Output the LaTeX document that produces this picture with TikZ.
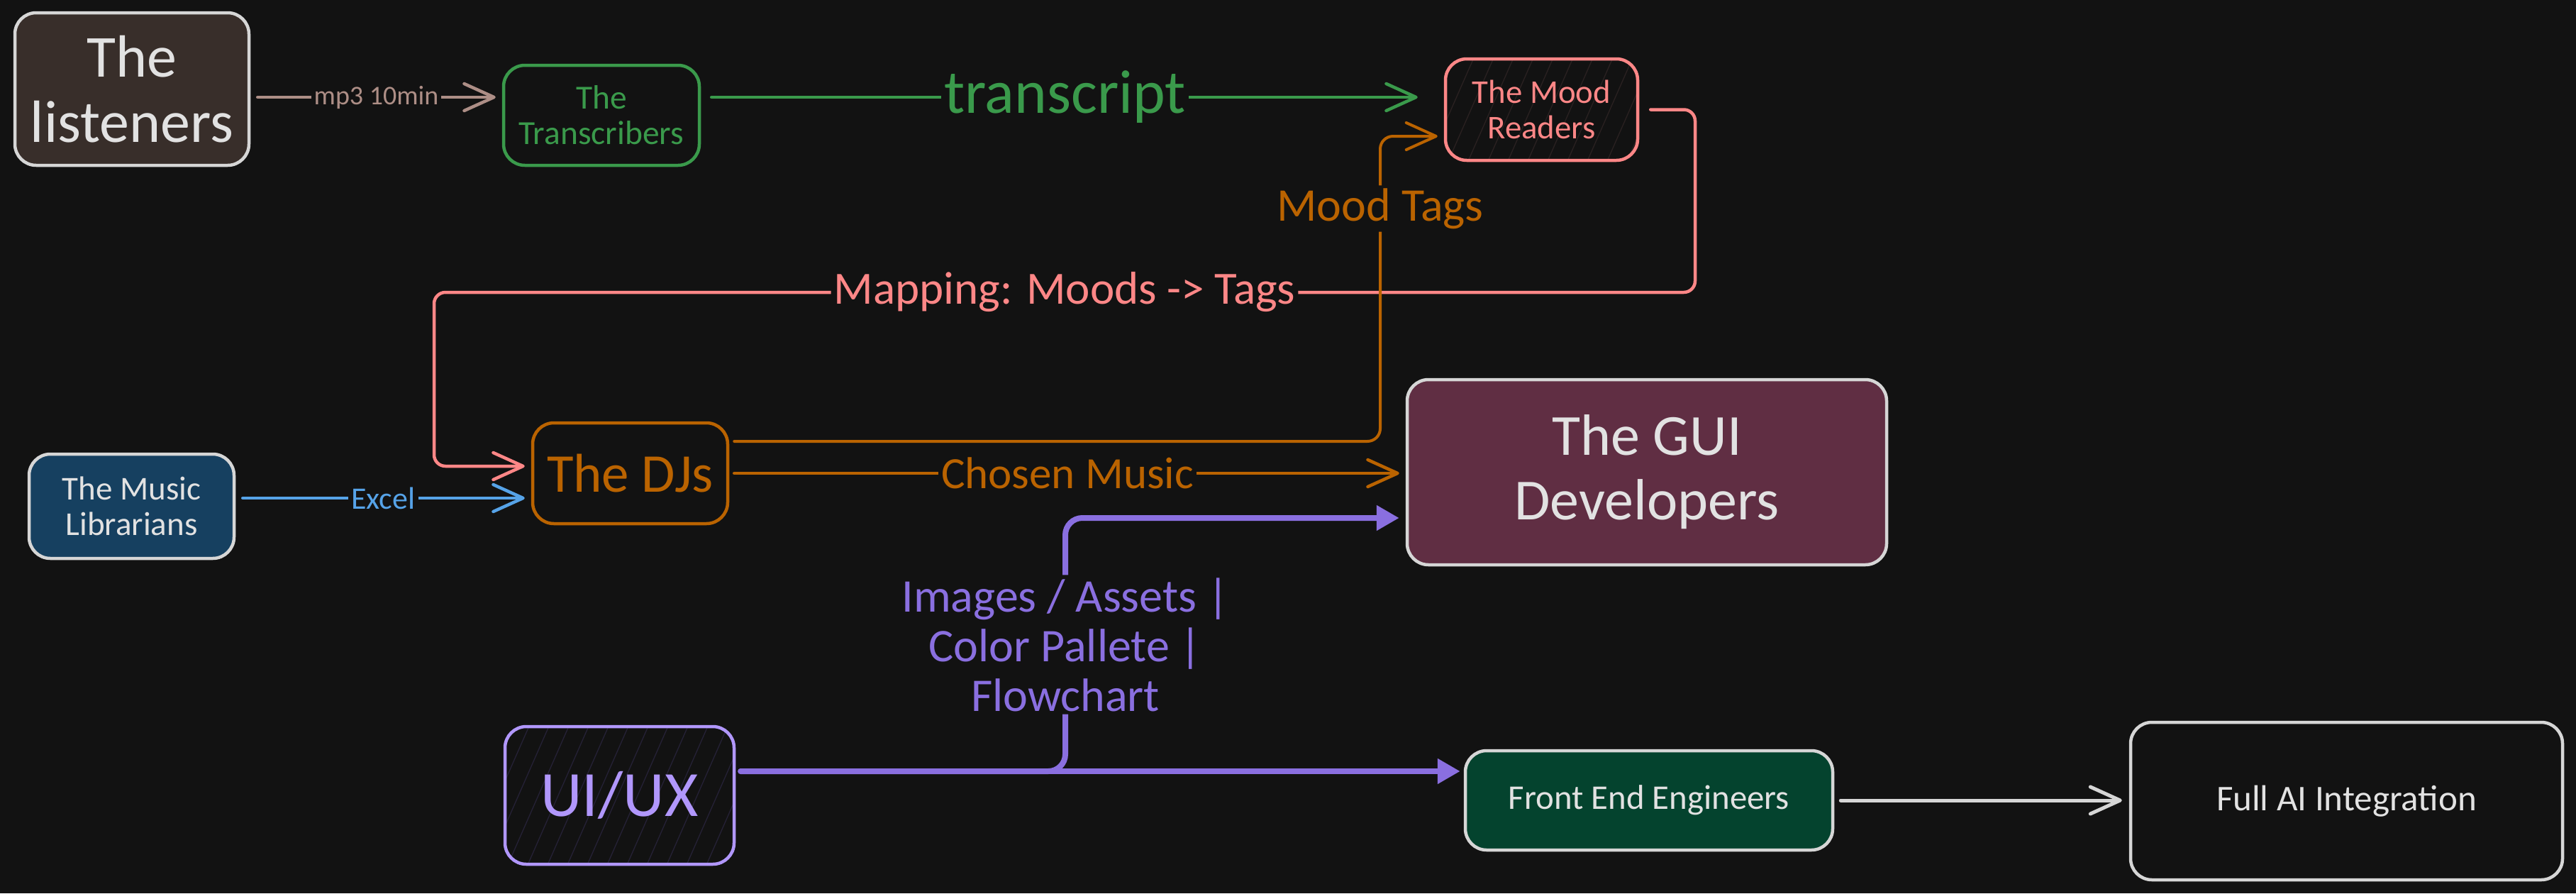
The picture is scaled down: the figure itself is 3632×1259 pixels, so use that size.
\documentclass[tikz,border=0pt]{standalone}
\usepackage{fontspec}
\setmainfont{Carlito}
\usetikzlibrary{arrows.meta,calc}
\definecolor{bg}{HTML}{121212}
\definecolor{lgray}{HTML}{D6D6D6}
\definecolor{txtw}{HTML}{E2E2E2}
\definecolor{brownfill}{HTML}{382E2A}
\definecolor{mpc}{HTML}{AD8E86}
\definecolor{grn}{HTML}{3A9A4B}
\definecolor{salmon}{HTML}{FF8787}
\definecolor{orng}{HTML}{BA6300}
\definecolor{blu}{HTML}{56A3E8}
\definecolor{purp}{HTML}{8A6FE0}
\definecolor{lav}{HTML}{B197FC}
\definecolor{libfill}{HTML}{164060}
\definecolor{guifill}{HTML}{602E43}
\definecolor{fefill}{HTML}{04432E}
\definecolor{hatchR}{HTML}{2A2121}
\definecolor{hatchP}{HTML}{252136}
\newcommand\fsz[2]{\fontsize{#1pt}{#2pt}\selectfont}
\begin{document}
\begin{tikzpicture}[x=1pt,y=-1pt,
  box/.style={draw, rounded corners=30pt, line width=4.5pt, inner sep=0pt, align=center},
  sz/.style 2 args={minimum width=#1pt, minimum height=#2pt},
  conn/.style={line width=4.5pt, line cap=round},
  barb/.style={-{Straight Barb[length=42pt,width=38pt,round]}},
  tri/.style={-{Triangle[length=32pt,width=34pt]}},
  lbl/.style={fill=bg, inner sep=4pt, align=center},
  hatch/.style={path picture={\foreach \k in {-12,...,14}{\draw[#1, line width=1.3pt] ($(path picture bounding box.south west)+(\k*28,10)$) -- ++(110,-250);}}},
]
\fill[bg] (0,0) rectangle (3632,1259);
\useasboundingbox (0,0) rectangle (3632,1259);

% nodes
\node[box, draw=lgray, fill=brownfill, text=txtw, sz={330}{215}, font=\fsz{84}{92}] (listeners) at (186,125.5) {The\\listeners};
\node[box, draw=grn, text=grn, sz={276}{141}, font=\fsz{47.5}{50}] (trans) at (848,162.5) {The\\Transcribers};
\node[box, draw=salmon, text=salmon, hatch=hatchR, sz={271}{143}, font=\fsz{46.8}{50}] (mood) at (2173.5,154.5) {The Mood\\Readers};
\node[box, draw=lgray, fill=libfill, text=txtw, sz={289}{147}, font=\fsz{47}{50}] (lib) at (185.5,713.5) {The Music\\Librarians};
\node[box, draw=orng, text=orng, sz={275}{142}, font=\fsz{77}{80}] (djs) at (888.5,667) {The DJs};
\node[box, draw=lgray, fill=guifill, text=txtw, sz={676}{261}, font=\fsz{82}{91}] (gui) at (2322,665.5) {The GUI\\Developers};
\node[box, draw=lav, text=lav, hatch=hatchP, sz={323}{194}, font=\fsz{91}{94}] (uiux) at (873.5,1121) {UI/UX};
\node[box, draw=lgray, fill=fefill, text=txtw, sz={518}{140}, font=\fsz{48.8}{52}] (fe) at (2325,1128) {Front End Engineers};
\node[box, draw=lgray, text=txtw, sz={609}{222}, font=\fsz{51}{54}] (fullai) at (3308.5,1129) {Full AI Integration};

% connectors
\draw[conn, mpc, barb, shorten <=10pt, shorten >=9pt] (listeners.east |- 0,137) -- node[lbl, text=mpc, font=\fsz{38}{40}] {mp3 10min} (trans.west |- 0,137);
\draw[conn, grn, barb, shorten <=15pt, shorten >=37pt] (trans.east |- 0,137) -- node[lbl, text=grn, font=\fsz{87}{90}, pos=0.49] {transcript} (mood.west |- 0,137);
\draw[conn, salmon, barb, rounded corners=16pt, shorten <=16pt, shorten >=9pt] (mood.east) -- (2390,154.5) -- (2390,412) -- node[lbl, text=salmon, font=\fsz{65}{68}] {Mapping: Moods -> Tags} (612,412) -- (612,657) -- ([yshift=10pt]djs.west);
\draw[conn, orng, line width=4pt, barb, rounded corners=18pt, shorten <=7pt, shorten >=9pt] ([yshift=45pt]djs.east) -- (1946,622) -- node[lbl, text=orng, font=\fsz{66}{68}, pos=0.763] {Mood Tags} (1946,192) -- ([yshift=-37.5pt]mood.west);
\draw[conn, orng, barb, shorten <=7pt, shorten >=9pt] (djs.east) -- node[lbl, text=orng, font=\fsz{63}{66}] {Chosen Music} (gui.west |- djs.east);
\draw[conn, blu, barb, shorten <=10pt, shorten >=9pt] (lib.east |- 0,702) -- node[lbl, text=blu, font=\fsz{44}{46}] {Excel} (djs.west |- 0,702);
\draw[conn, purp, line width=8pt, tri, rounded corners=24pt, shorten <=7pt, shorten >=9pt] (uiux.east |- 0,1087) -- (1502,1087) -- node[lbl, text=purp, font=\fsz{66}{70}, pos=0.5] {Images / Assets |\\Color Pallete |\\Flowchart} (1502,730) -- (gui.west |- 0,730);
\draw[conn, purp, line width=8pt, tri, shorten <=7pt, shorten >=5pt] (uiux.east |- 0,1087) -- (fe.west |- 0,1087);
\draw[conn, lgray, line width=5pt, barb, shorten <=9pt, shorten >=10pt] (fe.east) -- (fullai.west |- fe.east);
\end{tikzpicture}
\end{document}
